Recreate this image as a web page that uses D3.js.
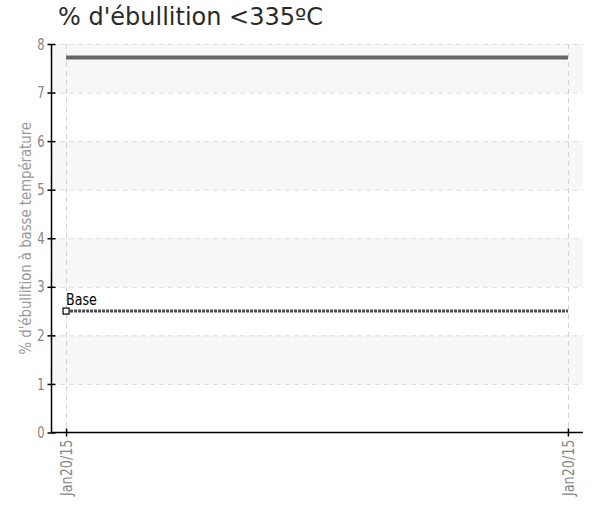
<!DOCTYPE html>
<html>
<head>
<meta charset="utf-8">
<script src="https://cdn.jsdelivr.net/npm/d3@7"></script>
<style>
  body { margin: 0; background: #fff; }
  .tick text { font-family: "DejaVu Sans Condensed", sans-serif; font-size: 16px; fill: #858585; }
</style>
</head>
<body>
<svg></svg>
<script>
// data
const dates = ["Jan20/15", "Jan20/15"]
const mainValues = [7.72, 7.72]
const baseValues = [2.5, 2.5]
const baseLabel = "Base"
const yTicks = [0, 1, 2, 3, 4, 5, 6, 7, 8]
const titleText = "% d'ébullition <335ºC"
const yLabel = "% d'ébullition à basse température"

const W = 592, H = 509
const plotLeft = 51, plotRight = 583, plotTop = 44, plotBottom = 432.5
const narrow = "DejaVu Sans Condensed, sans-serif"

const svg = d3.select("svg")
    .attr("width", W)
    .attr("height", H)

const x = d3.scaleLinear()
    .domain([-0.03, 1.03])
    .range([plotLeft, plotRight])

const y = d3.scaleLinear()
    .domain([0, 8])
    .range([plotBottom, plotTop])

// alternating bands
const bands = d3.range(1, 8, 2)
svg.selectAll("rect.band")
    .data(bands)
    .enter()
    .append("rect")
    .attr("class", "band")
    .attr("x", plotLeft)
    .attr("width", plotRight - plotLeft)
    .attr("y", d => y(d + 1))
    .attr("height", d => y(d) - y(d + 1))
    .style("fill", "#f7f7f7")

// horizontal grid
svg.selectAll("line.hgrid")
    .data(yTicks.slice(1))
    .enter()
    .append("line")
    .attr("class", "hgrid")
    .attr("x1", plotLeft)
    .attr("x2", plotRight)
    .attr("y1", d => y(d) + 0.5)
    .attr("y2", d => y(d) + 0.5)
    .style("stroke", "#dcdcdc")
    .style("stroke-dasharray", "5,4")

// vertical grid
svg.selectAll("line.vgrid")
    .data(dates)
    .enter()
    .append("line")
    .attr("class", "vgrid")
    .attr("x1", (d, i) => x(i) + 0.5)
    .attr("x2", (d, i) => x(i) + 0.5)
    .attr("y1", plotTop)
    .attr("y2", plotBottom)
    .style("stroke", "#d0d0d0")
    .style("stroke-dasharray", "5,4")

// main series
const line = d3.line()
    .x((d, i) => x(i))
    .y(d => y(d))

svg.append("path")
    .datum(mainValues)
    .attr("d", line)
    .style("fill", "none")
    .style("stroke", "#666")
    .style("stroke-width", 4)

// base series
svg.append("path")
    .datum(baseValues)
    .attr("d", line)
    .style("fill", "none")
    .style("stroke", "#4a4a4a")
    .style("stroke-width", 3)
    .style("stroke-dasharray", "3,1")

svg.append("rect")
    .attr("x", x(0) - 3)
    .attr("y", y(baseValues[0]) - 3)
    .attr("width", 6)
    .attr("height", 6)
    .style("fill", "#fff")
    .style("stroke", "#000")
    .style("stroke-width", 1.2)

svg.append("text")
    .attr("transform", `translate(${x(0)},${y(baseValues[0]) - 6}) scale(0.88,1)`)
    .text(baseLabel)
    .style("font-family", narrow)
    .style("font-size", "16px")
    .style("fill", "#000")

// axes
const yAxis = d3.axisLeft(y)
    .tickValues(yTicks)
    .tickSizeInner(4)
    .tickSizeOuter(0)
    .tickPadding(3)

const yG = svg.append("g")
    .attr("transform", `translate(${plotLeft + 0.5},0)`)
    .call(yAxis)
yG.select(".domain").attr("d", `M0,${plotTop}V${plotBottom}`).style("stroke", "#000").style("stroke-width", 1.5)
yG.selectAll(".tick line").attr("x1", 4).style("stroke-width", 1.5)
yG.selectAll(".tick text")
    .attr("x", null)
    .attr("transform", "translate(-7,0) scale(0.8,1)")

const xAxis = d3.axisBottom(x)
    .tickValues(d3.range(dates.length))
    .tickFormat(i => dates[i])
    .tickSizeInner(4)
    .tickSizeOuter(0)

const xG = svg.append("g")
    .attr("transform", `translate(0,${plotBottom})`)
    .call(xAxis)
xG.select(".domain").attr("d", `M${plotLeft},0H${plotRight}`).style("stroke", "#000").style("stroke-width", 1.5)
xG.selectAll(".tick line").attr("y1", -4).style("stroke-width", 1.5)
xG.selectAll(".tick text")
    .attr("transform", "translate(0,7) rotate(-90) scale(0.89,1)")
    .attr("x", 0)
    .attr("y", 0)
    .attr("dy", "0.35em")
    .style("text-anchor", "end")

// title & y label
svg.append("text")
    .attr("x", 58)
    .attr("y", 25)
    .text(titleText)
    .style("font-family", "DejaVu Sans, sans-serif")
    .style("font-size", "24px")
    .style("fill", "#2a2a2a")

svg.append("text")
    .attr("transform", `translate(31,${(plotTop + plotBottom) / 2}) rotate(-90) scale(0.92,1)`)
    .attr("text-anchor", "middle")
    .text(yLabel)
    .style("font-family", narrow)
    .style("font-size", "16px")
    .style("fill", "#9a9a9a")
</script>
</body>
</html>
